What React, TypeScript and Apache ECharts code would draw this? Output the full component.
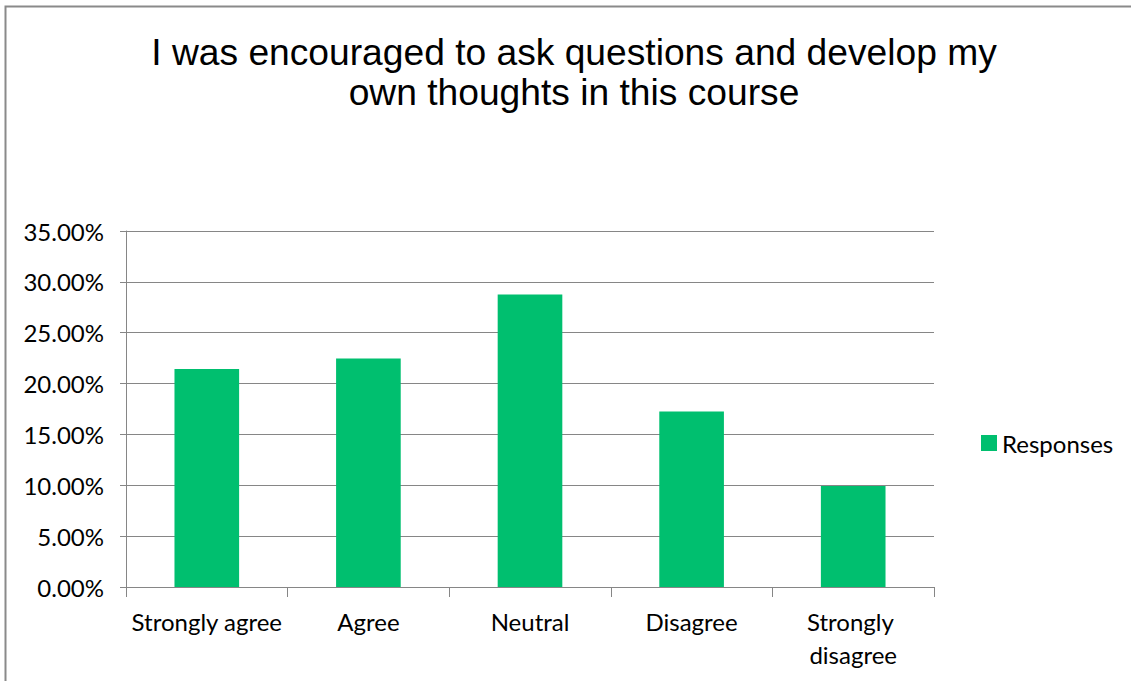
import React, { useEffect, useRef } from "react";
import * as echarts from "echarts";

const categories = ["Strongly agree", "Agree", "Neutral", "Disagree", "Strongly disagree"];
const responses = [0.2143, 0.2247, 0.2876, 0.1726, 0.0993];
const seriesName = "Responses";
const titleText = "I was encouraged to ask questions and develop my\nown thoughts in this course";

export default function App() {
  const ref = useRef<HTMLDivElement>(null);
  useEffect(() => {
    if (!ref.current) return;
    const chart = echarts.init(ref.current, null, { renderer: "svg" });
    const labelFont = "Lato, 'Open Sans', sans-serif";
    chart.setOption({
      animation: false,
      backgroundColor: "#ffffff",
      title: {
        text: titleText,
        left: 569,
        top: 27,
        textAlign: "center",
        textStyle: {
          fontFamily: "'Liberation Sans', Arial, sans-serif",
          fontWeight: "normal",
          fontSize: 37.2,
          lineHeight: 40,
          color: "#000000",
        },
      },
      legend: {
        left: 976,
        top: 426,
        icon: "rect",
        itemWidth: 16,
        itemHeight: 16,
        itemGap: 6,
        textStyle: { fontFamily: labelFont, fontSize: 24, color: "#000000", padding: [0, 0, 0, 0] },
        data: [seriesName],
      },
      grid: { left: 126, right: 197, top: 231, bottom: 94, containLabel: false },
      xAxis: {
        type: "category",
        data: categories,
        axisLine: { lineStyle: { color: "#868686", width: 1 } },
        axisTick: { show: true, alignWithLabel: false, length: 10, lineStyle: { color: "#868686" } },
        axisLabel: {
          interval: 0,
          margin: 18,
          fontFamily: labelFont,
          fontSize: 24,
          lineHeight: 33,
          color: "#000000",
          width: 160,
          overflow: "break",
        },
      },
      yAxis: {
        type: "value",
        min: 0,
        max: 0.35,
        interval: 0.05,
        axisLine: { show: true, lineStyle: { color: "#868686", width: 1 } },
        axisTick: { show: true, length: 6, lineStyle: { color: "#868686" } },
        splitLine: { show: true, lineStyle: { color: "#868686", width: 1 } },
        axisLabel: {
          margin: 22,
          fontFamily: labelFont,
          fontSize: 24,
          color: "#000000",
          formatter: (v: number) => (v * 100).toFixed(2) + "%",
        },
      },
      series: [
        {
          name: seriesName,
          type: "bar",
          data: responses,
          barCategoryGap: "60%",
          itemStyle: { color: "#00BF6F" },
        },
      ],
      graphic: [
        {
          type: "rect",
          shape: { x: 5.5, y: 6.5, width: 1200, height: 800 },
          style: { fill: "none", stroke: "#8a8a8a", lineWidth: 2 },
          silent: true,
        },
      ],
    });
    return () => chart.dispose();
  }, []);
  return (
    <div
      ref={ref}
      style={{ position: "fixed", left: 0, top: 0, width: 1131, height: 681 }}
    />
  );
}
